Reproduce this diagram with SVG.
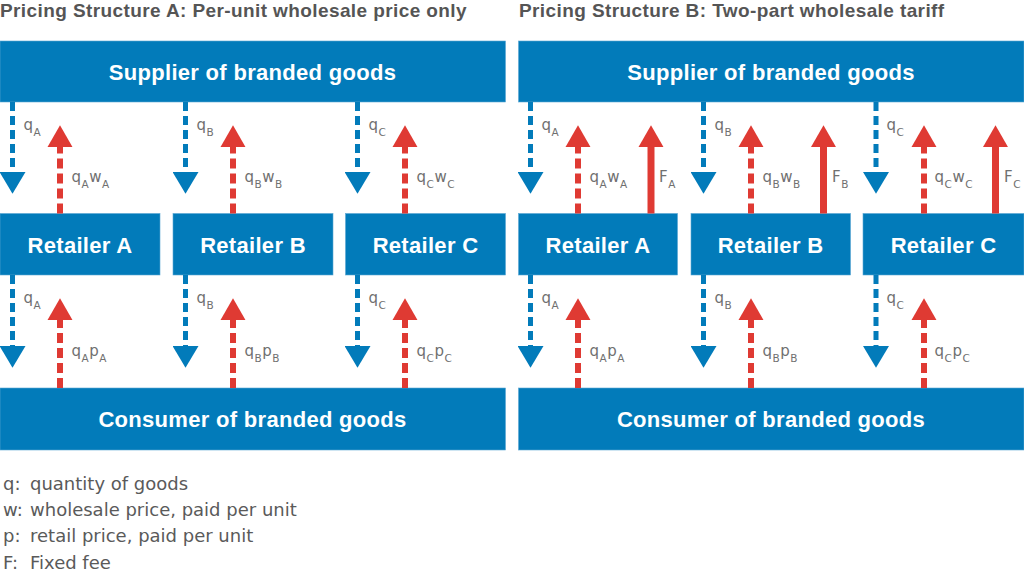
<svg xmlns="http://www.w3.org/2000/svg" width="1024" height="583" viewBox="0 0 1024 583">
  <style>
    .title { font-family: "Liberation Sans", Arial, sans-serif; font-weight: bold; font-size: 19px; letter-spacing: 0.4px; fill: #555555; }
    .box { fill: #027BBA; stroke: #5aa7d4; stroke-width: 0.6; }
    .boxtxt { font-family: "Liberation Sans", Arial, sans-serif; font-weight: bold; font-size: 22px; letter-spacing: 0.3px; fill: #ffffff; text-anchor: middle; }
    .qline { stroke: #027BBA; stroke-width: 5; stroke-dasharray: 9 5; fill: none; }
    .pline { stroke: #DF3A33; stroke-width: 6; stroke-dasharray: 10 5; fill: none; }
    .fline { stroke: #DF3A33; stroke-width: 7; fill: none; }
    .lbl { font-family: "DejaVu Sans", sans-serif; font-size: 15px; fill: #707070; letter-spacing: 0.5px; }
    .sub { font-size: 10.5px; }
    .legend { font-family: "DejaVu Sans", sans-serif; font-size: 18px; fill: #5a5a5a; }
  </style>
  <defs>
    <marker id="headB" markerUnits="userSpaceOnUse" markerWidth="22" markerHeight="26" viewBox="0 -12.5 21 25" refX="0" refY="0" orient="auto">
      <path d="M0,-12.5 L21,0 L0,12.5 Z" fill="#027BBA"/>
    </marker>
    <marker id="headR" markerUnits="userSpaceOnUse" markerWidth="22" markerHeight="26" viewBox="0 -12.5 21 25" refX="0" refY="0" orient="auto">
      <path d="M0,-12 L21,0 L0,12 Z" fill="#DF3A33"/>
    </marker>
  </defs>

  <rect width="1024" height="583" fill="#ffffff"/>

  <text class="title" x="0" y="17">Pricing Structure A: Per-unit wholesale price only</text>
  <text class="title" x="519" y="17">Pricing Structure B: Two-part wholesale tariff</text>

  <!-- Panel A nodes -->
  <g id="supplierA"><rect class="box" x="0" y="41" width="505.5" height="61"/><text class="boxtxt" x="252.5" y="80">Supplier of branded goods</text></g>
  <g id="retailerA1"><rect class="box" x="0" y="213.5" width="160" height="61.5"/><text class="boxtxt" x="80" y="252.5">Retailer A</text></g>
  <g id="retailerB1"><rect class="box" x="173" y="213.5" width="160" height="61.5"/><text class="boxtxt" x="253" y="252.5">Retailer B</text></g>
  <g id="retailerC1"><rect class="box" x="345.5" y="213.5" width="160" height="61.5"/><text class="boxtxt" x="425.5" y="252.5">Retailer C</text></g>
  <g id="consumerA"><rect class="box" x="0" y="388" width="505.5" height="62"/><text class="boxtxt" x="252.5" y="427">Consumer of branded goods</text></g>

  <!-- Panel B nodes -->
  <g id="supplierB"><rect class="box" x="518.5" y="41" width="505.5" height="61"/><text class="boxtxt" x="771" y="80">Supplier of branded goods</text></g>
  <g id="retailerA2"><rect class="box" x="518.5" y="213.5" width="159" height="61.5"/><text class="boxtxt" x="598" y="252.5">Retailer A</text></g>
  <g id="retailerB2"><rect class="box" x="691" y="213.5" width="159.5" height="61.5"/><text class="boxtxt" x="770.5" y="252.5">Retailer B</text></g>
  <g id="retailerC2"><rect class="box" x="863" y="213.5" width="161" height="61.5"/><text class="boxtxt" x="943.5" y="252.5">Retailer C</text></g>
  <g id="consumerB"><rect class="box" x="518.5" y="388" width="505.5" height="62"/><text class="boxtxt" x="771" y="427">Consumer of branded goods</text></g>

  <g id="connectors">
    <!-- Panel A upper -->
    <line class="qline" x1="12.5" y1="102" x2="12.5" y2="172" marker-end="url(#headB)"/>
    <line class="pline" x1="60" y1="213.5" x2="60" y2="147" marker-end="url(#headR)"/>
    <line class="qline" x1="185.5" y1="102" x2="185.5" y2="172" marker-end="url(#headB)"/>
    <line class="pline" x1="233" y1="213.5" x2="233" y2="147" marker-end="url(#headR)"/>
    <line class="qline" x1="357.5" y1="102" x2="357.5" y2="172" marker-end="url(#headB)"/>
    <line class="pline" x1="405" y1="213.5" x2="405" y2="147" marker-end="url(#headR)"/>
    <!-- Panel A lower -->
    <line class="qline" x1="12.5" y1="275" x2="12.5" y2="346" marker-end="url(#headB)"/>
    <line class="pline" x1="60" y1="388" x2="60" y2="320" marker-end="url(#headR)"/>
    <line class="qline" x1="185.5" y1="275" x2="185.5" y2="346" marker-end="url(#headB)"/>
    <line class="pline" x1="233" y1="388" x2="233" y2="320" marker-end="url(#headR)"/>
    <line class="qline" x1="357.5" y1="275" x2="357.5" y2="346" marker-end="url(#headB)"/>
    <line class="pline" x1="405" y1="388" x2="405" y2="320" marker-end="url(#headR)"/>
    <!-- Panel B upper -->
    <line class="qline" x1="530.5" y1="102" x2="530.5" y2="172" marker-end="url(#headB)"/>
    <line class="pline" x1="578" y1="213.5" x2="578" y2="147" marker-end="url(#headR)"/>
    <line class="fline" x1="651" y1="213.5" x2="651" y2="147" marker-end="url(#headR)"/>
    <line class="qline" x1="703.5" y1="102" x2="703.5" y2="172" marker-end="url(#headB)"/>
    <line class="pline" x1="751" y1="213.5" x2="751" y2="147" marker-end="url(#headR)"/>
    <line class="fline" x1="823.5" y1="213.5" x2="823.5" y2="147" marker-end="url(#headR)"/>
    <line class="qline" x1="876" y1="102" x2="876" y2="172" marker-end="url(#headB)"/>
    <line class="pline" x1="924" y1="213.5" x2="924" y2="147" marker-end="url(#headR)"/>
    <line class="fline" x1="995.5" y1="213.5" x2="995.5" y2="147" marker-end="url(#headR)"/>
    <!-- Panel B lower -->
    <line class="qline" x1="530.5" y1="275" x2="530.5" y2="346" marker-end="url(#headB)"/>
    <line class="pline" x1="578" y1="388" x2="578" y2="320" marker-end="url(#headR)"/>
    <line class="qline" x1="703.5" y1="275" x2="703.5" y2="346" marker-end="url(#headB)"/>
    <line class="pline" x1="751" y1="388" x2="751" y2="320" marker-end="url(#headR)"/>
    <line class="qline" x1="876" y1="275" x2="876" y2="346" marker-end="url(#headB)"/>
    <line class="pline" x1="924" y1="388" x2="924" y2="320" marker-end="url(#headR)"/>

    <!-- Labels panel A -->
    <text class="lbl" x="23.5" y="130">q<tspan class="sub" dy="6">A</tspan></text>
    <text class="lbl" x="71.5" y="182">q<tspan class="sub" dy="6">A</tspan><tspan dy="-6">w</tspan><tspan class="sub" dy="6">A</tspan></text>
    <text class="lbl" x="196.5" y="130">q<tspan class="sub" dy="6">B</tspan></text>
    <text class="lbl" x="244.5" y="182">q<tspan class="sub" dy="6">B</tspan><tspan dy="-6">w</tspan><tspan class="sub" dy="6">B</tspan></text>
    <text class="lbl" x="368.5" y="130">q<tspan class="sub" dy="6">C</tspan></text>
    <text class="lbl" x="416.5" y="182">q<tspan class="sub" dy="6">C</tspan><tspan dy="-6">w</tspan><tspan class="sub" dy="6">C</tspan></text>

    <text class="lbl" x="23.5" y="303">q<tspan class="sub" dy="6">A</tspan></text>
    <text class="lbl" x="71.5" y="356">q<tspan class="sub" dy="6">A</tspan><tspan dy="-6">p</tspan><tspan class="sub" dy="6">A</tspan></text>
    <text class="lbl" x="196.5" y="303">q<tspan class="sub" dy="6">B</tspan></text>
    <text class="lbl" x="244.5" y="356">q<tspan class="sub" dy="6">B</tspan><tspan dy="-6">p</tspan><tspan class="sub" dy="6">B</tspan></text>
    <text class="lbl" x="368.5" y="303">q<tspan class="sub" dy="6">C</tspan></text>
    <text class="lbl" x="416.5" y="356">q<tspan class="sub" dy="6">C</tspan><tspan dy="-6">p</tspan><tspan class="sub" dy="6">C</tspan></text>

    <!-- Labels panel B -->
    <text class="lbl" x="541.5" y="130">q<tspan class="sub" dy="6">A</tspan></text>
    <text class="lbl" x="589.5" y="182">q<tspan class="sub" dy="6">A</tspan><tspan dy="-6">w</tspan><tspan class="sub" dy="6">A</tspan></text>
    <text class="lbl" x="659" y="182">F<tspan class="sub" dy="6">A</tspan></text>
    <text class="lbl" x="714.5" y="130">q<tspan class="sub" dy="6">B</tspan></text>
    <text class="lbl" x="762.5" y="182">q<tspan class="sub" dy="6">B</tspan><tspan dy="-6">w</tspan><tspan class="sub" dy="6">B</tspan></text>
    <text class="lbl" x="832" y="182">F<tspan class="sub" dy="6">B</tspan></text>
    <text class="lbl" x="886.5" y="130">q<tspan class="sub" dy="6">C</tspan></text>
    <text class="lbl" x="934.5" y="182">q<tspan class="sub" dy="6">C</tspan><tspan dy="-6">w</tspan><tspan class="sub" dy="6">C</tspan></text>
    <text class="lbl" x="1004" y="182">F<tspan class="sub" dy="6">C</tspan></text>

    <text class="lbl" x="541.5" y="303">q<tspan class="sub" dy="6">A</tspan></text>
    <text class="lbl" x="589.5" y="356">q<tspan class="sub" dy="6">A</tspan><tspan dy="-6">p</tspan><tspan class="sub" dy="6">A</tspan></text>
    <text class="lbl" x="714.5" y="303">q<tspan class="sub" dy="6">B</tspan></text>
    <text class="lbl" x="762.5" y="356">q<tspan class="sub" dy="6">B</tspan><tspan dy="-6">p</tspan><tspan class="sub" dy="6">B</tspan></text>
    <text class="lbl" x="886.5" y="303">q<tspan class="sub" dy="6">C</tspan></text>
    <text class="lbl" x="934.5" y="356">q<tspan class="sub" dy="6">C</tspan><tspan dy="-6">p</tspan><tspan class="sub" dy="6">C</tspan></text>
  </g>

  <g id="legend">
    <text class="legend" x="3" y="489.5">q:<tspan x="30">quantity of goods</tspan></text>
    <text class="legend" x="3" y="516">w:<tspan x="30">wholesale price, paid per unit</tspan></text>
    <text class="legend" x="3" y="542.3">p:<tspan x="30">retail price, paid per unit</tspan></text>
    <text class="legend" x="3" y="568.5">F:<tspan x="30">Fixed fee</tspan></text>
  </g>
</svg>
